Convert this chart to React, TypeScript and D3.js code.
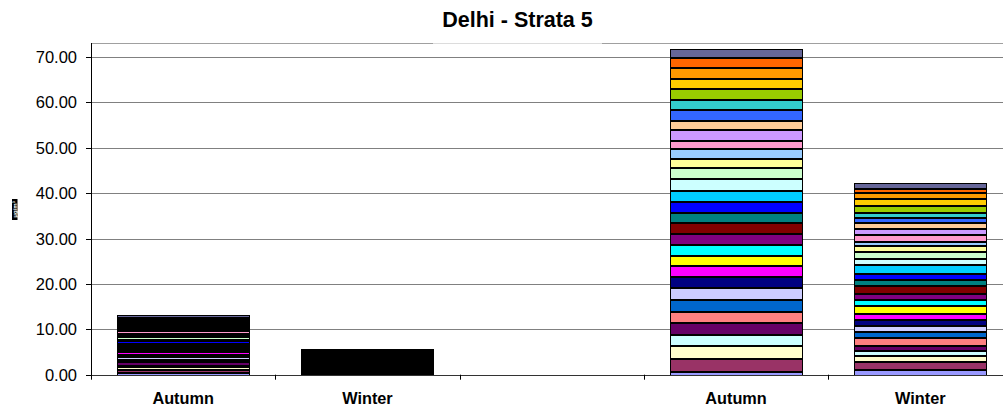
import React from "react";
import * as d3 from "d3";

// ---- data ----
const categories = ["Autumn", "Winter", "", "Autumn", "Winter"];
const chartTitle = "Delhi - Strata 5";
const yAxisLabel = "μg/m³";
const yTicks = [0, 10, 20, 30, 40, 50, 60, 70];

// Excel default series fill palette (series 1 .. 31, bottom to top)
const seriesColors = [
  "#9999FF", "#993366", "#FFFFCC", "#CCFFFF", "#660066", "#FF8080", "#0066CC", "#CCCCFF",
  "#000080", "#FF00FF", "#FFFF00", "#00FFFF", "#800080", "#800000", "#008080", "#0000FF",
  "#00CCFF", "#CCFFFF", "#CCFFCC", "#FFFF99", "#99CCFF", "#FF99CC", "#CC99FF", "#FFCC99",
  "#3366FF", "#33CCCC", "#99CC00", "#FFCC00", "#FF9900", "#FF6600", "#666699",
];

// stacked values per bar (series 1..31)
const autumnA = [
  0.37, 0.66, 0.66, 0.33, 0.77, 0.33, 0.22, 0.66, 0.33, 0.66, 0.35, 0.35, 0.35, 0.35, 0.35, 0.66,
  0.22, 0.11, 0.66, 0.22, 0.33, 0.77, 0.34, 0.34, 0.34, 0.34, 0.34, 0.34, 0.34, 0.34, 0.82,
];
const winterA = [
  0.2, 0.18, 0.17, 0.19, 0.18, 0.16, 0.2, 0.18, 0.17, 0.19, 0.18, 0.18, 0.17, 0.19, 0.18, 0.2,
  0.17, 0.18, 0.19, 0.18, 0.17, 0.18, 0.19, 0.18, 0.17, 0.18, 0.19, 0.18, 0.17, 0.18, 0.22,
];
const emptyBar: number[] = [];
const autumnB = [
  0.66, 2.8, 2.94, 2.35, 2.72, 2.43, 2.57, 2.57, 2.5, 2.35, 2.35, 2.35, 2.35, 2.43, 2.35, 2.35,
  2.35, 2.72, 2.35, 2.06, 2.28, 1.69, 2.35, 2.06, 2.35, 2.28, 2.43, 2.13, 2.57, 2.06, 2.06,
];
const winterB = [
  1.04, 1.7, 1.32, 1.23, 1.1, 1.7, 1.32, 1.26, 1.46, 1.26, 1.7, 1.46, 1.32, 1.63, 1.32, 1.39,
  1.92, 1.32, 1.61, 1.32, 0.95, 1.48, 1.26, 1.32, 1.1, 1.23, 1.48, 1.48, 1.32, 0.88, 1.32,
];
const barValues = [autumnA, winterA, emptyBar, autumnB, winterB];
const yMax = 73.1;

const FONT = "'Liberation Sans', Arial, Helvetica, sans-serif";

export default function App() {
  const W = 1003;
  const H = 409;
  const left = 91;
  const top = 43;
  const bottom = 374.7;
  const bandW = 184.3;

  const x = d3
    .scaleBand<number>()
    .domain(d3.range(categories.length))
    .range([left, left + bandW * categories.length])
    .paddingInner(0.28)
    .paddingOuter(0.14);
  const y = d3.scaleLinear().domain([0, yMax]).range([bottom, top]);

  const bars = barValues.map((vals, ci) => {
    let acc = 0;
    return vals.map((v, si) => {
      const y0 = acc;
      acc += v;
      return { ci, si, y0, y1: acc };
    });
  });

  const boundaries = d3.range(categories.length + 1).map((i) => left + bandW * i);
  const titleX = 517.5;
  const snap = (v: number) => Math.round(v) + 0.5;

  return (
    <svg
      width={W}
      height={H}
      style={{ position: "absolute", left: 0, top: 0, background: "#fff" }}
      fontFamily={FONT}
    >
      {/* gridlines */}
      {yTicks.map((t) => (
        <line key={t} x1={left} x2={W} y1={snap(y(t))} y2={snap(y(t))} stroke="#808080" strokeWidth={1} />
      ))}
      {/* top frame line */}
      <line x1={left} x2={W} y1={snap(y(yMax))} y2={snap(y(yMax))} stroke="#a0a0a0" />
      <line x1={433} x2={602} y1={snap(y(yMax))} y2={snap(y(yMax))} stroke="#dcdcdc" />

      {/* bars: each segment has its own 1px black border inside its box */}
      {bars.map((segs, ci) =>
        segs.map((s) => {
          const yt = Math.round(y(s.y1));
          const yb = Math.round(y(s.y0)) + (s.si === 0 ? 1 : 0);
          const x0 = Math.round(x(ci)!);
          const w = Math.round(x.bandwidth());
          const h = yb - yt;
          if (h <= 0) return null;
          return (
            <g key={`${ci}-${s.si}`} shapeRendering="crispEdges">
              <rect x={x0} y={yt} width={w} height={h} fill="#000" />
              {h > 2 && (
                <rect x={x0 + 1} y={yt + 1} width={w - 2} height={h - 2} fill={seriesColors[s.si]} />
              )}
            </g>
          );
        })
      )}

      {/* y axis */}
      <line x1={left + 0.5} x2={left + 0.5} y1={top} y2={bottom + 1} stroke="#000" />
      {yTicks.map((t) => (
        <g key={`t${t}`}>
          <line x1={left - 5} x2={left} y1={snap(y(t))} y2={snap(y(t))} stroke="#000" />
          <text x={left - 14} y={y(t)} dy="0.36em" textAnchor="end" fontSize={16.5} fill="#000">
            {d3.format(".2f")(t)}
          </text>
        </g>
      ))}

      {/* x axis */}
      <line x1={left} x2={W} y1={snap(bottom)} y2={snap(bottom)} stroke="#333" />
      {boundaries.map((bx, i) => (
        <line key={`xb${i}`} x1={snap(bx)} x2={snap(bx)} y1={bottom} y2={bottom + 5} stroke="#000" />
      ))}
      {categories.map((c, i) => (
        <text
          key={`c${i}`}
          x={x(i)! + x.bandwidth() / 2}
          y={404}
          textAnchor="middle"
          fontSize={16.3}
          fontWeight="bold"
          fill="#000"
        >
          {c}
        </text>
      ))}

      {/* y axis label */}
      <rect x={12} y={199} width={5.5} height={21} fill="#000" />
      <text
        transform="translate(16.5,209.5) rotate(-90)"
        textAnchor="middle"
        fontSize={6}
        fontWeight="bold"
        fill="#fff"
      >
        {yAxisLabel}
      </text>

      {/* title */}
      <text x={titleX} y={27} textAnchor="middle" fontSize={21.5} fontWeight="bold" fill="#000">
        {chartTitle}
      </text>
    </svg>
  );
}
